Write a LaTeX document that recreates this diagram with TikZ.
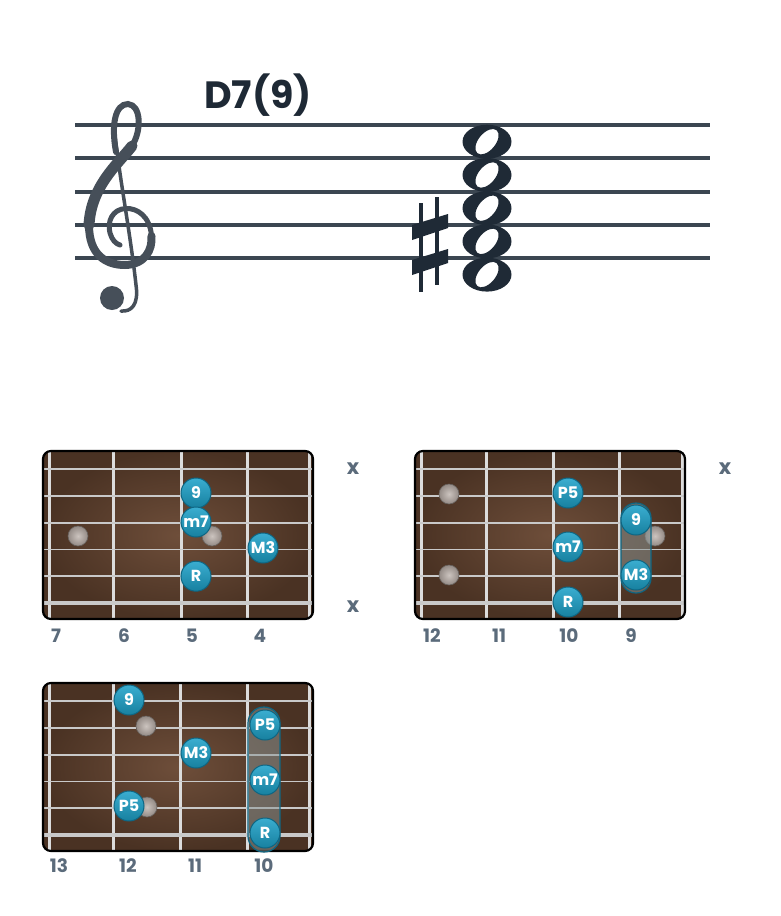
\documentclass[tikz,border=0pt]{standalone}
\usepackage{fontspec}
\usepackage{xcolor}
\setmainfont{Poppins}
\definecolor{titlec}{HTML}{1E2935}
\definecolor{stafflc}{HTML}{3B4651}
\definecolor{notec}{HTML}{1F2A36}
\definecolor{clefc}{HTML}{464F59}
\definecolor{boardin}{HTML}{6E4E3A}
\definecolor{boardout}{HTML}{4A3223}
\definecolor{fretc}{HTML}{DCDCDC}
\definecolor{strc}{HTML}{C9C9C9}
\definecolor{tonec}{HTML}{17809F}
\definecolor{tonelight}{HTML}{3AADD0}
\definecolor{toneedge}{HTML}{0E6683}
\definecolor{inlayin}{HTML}{CCC4BF}
\definecolor{inlayout}{HTML}{938A85}
\definecolor{labelc}{HTML}{5B6B7B}
\definecolor{barrec}{HTML}{8A9696}

\begin{document}
\begin{tikzpicture}[x=1pt,y=-1pt]
\tikzset{staffline/.style={line width=4pt,color=stafflc}}
\tikzset{clef/.style={color=clefc,line cap=round}}
\tikzset{fret/.style={line width=3pt,color=fretc}}
\tikzset{gstring/.style={line width=1.8pt,color=strc}}
\tikzset{board/.style={rounded corners=8pt,inner color=boardin,outer color=boardout}}
\tikzset{boardrim/.style={rounded corners=8pt,line width=2.2pt,draw=black}}
\tikzset{tone/.style={circle,minimum size=30pt,inner sep=0pt,top color=tonelight,bottom color=tonec,draw=toneedge,line width=1pt,text=white,font=\bfseries\fontsize{16}{16}\selectfont}}
\tikzset{inlay/.style={circle,minimum size=20pt,inner sep=0pt,inner color=inlayin,outer color=inlayout,draw=inlayout!70!black,line width=0.6pt}}
\tikzset{barre/.style={rounded corners=15pt,fill=barrec,fill opacity=0.5,draw=toneedge,line width=1.2pt}}
\tikzset{fretno/.style={anchor=base,text=labelc,font=\bfseries\fontsize{18.5}{18.5}\selectfont}}
\tikzset{mute/.style={anchor=base,text=labelc,font=\bfseries\fontsize{21}{21}\selectfont}}

\fill[white] (0,0) rectangle (780,916);
\useasboundingbox (0,0) rectangle (780,916);

\node[anchor=base,text=titlec,font=\bfseries\fontsize{38}{38}\selectfont] (chordname) at (258,108) {D7(9)};

\foreach \ly in {125,158.3,191.5,224.8,258} \draw[staffline] (75,\ly) -- (710,\ly);

\draw[clef,line width=6pt] (116,152) .. controls (111,125) and (115,104) .. (128,104) .. controls (141,105) and (142,130) .. (132,146);
\draw[clef,line width=11pt] (132,146) .. controls (118,164) and (91,186) .. (89,225);
\draw[clef,line width=8pt] (89,225) .. controls (89,255) and (106,265) .. (125,265) .. controls (145,264.5) and (152.5,250) .. (151.5,236);
\draw[clef,line width=5pt] (151.5,236) .. controls (150,216) and (137,208) .. (126,208.5) .. controls (112,209) and (107,222) .. (110,233) .. controls (112,240) and (116,244) .. (120,245);
\draw[clef,line width=3.5pt] (114,125) .. controls (118,170) and (130,230) .. (136,285) .. controls (139,305) and (131,312) .. (121,311);
\fill[clefc] (112,298) circle (12pt);

\foreach \ny in {141.7,175,208.2,241.4,274.6}
  \fill[notec,even odd rule] (487,\ny) ellipse (24.5pt and 17pt) {[rotate around={50:(487,\ny)}] (487,\ny) ellipse (15pt and 8.5pt)};

\draw[notec,line width=3.5pt] (421,203) -- (421,292);
\draw[notec,line width=3.5pt] (437,197) -- (437,285);
\fill[notec] (412,225) -- (448,214) -- (448,228) -- (412,240) -- cycle;
\fill[notec] (412,260) -- (448,249) -- (448,263) -- (412,275) -- cycle;

\begin{scope}[shift={(43,451)}]
\shade[board] (0,0) rectangle (270,168);
\foreach \fx in {6,70,138,204,266} \draw[fret] (\fx,1) -- (\fx,167);
\foreach \sy in {18,44.8,71.6,98.4,125.2} \draw[gstring] (1,\sy) -- (269,\sy);
\draw[gstring,line width=3.5pt] (1,152) -- (269,152);
\draw[boardrim] (0,0) rectangle (270,168);
\node[inlay] (b1i1) at (35,85) {};
\node[inlay] (b1i2) at (169,85) {};
\node[tone] (b1t9) at (153,42) {9};
\node[tone] (b1m7) at (153,71) {m7};
\node[tone] (b1M3) at (220,97) {M3};
\node[tone] (b1R) at (153,125.2) {R};
\node[mute] (b1x1) at (310,23) {x};
\node[mute] (b1x6) at (310,161) {x};
\node[fretno] (b1f7) at (13,191) {7};
\node[fretno] (b1f6) at (81,191) {6};
\node[fretno] (b1f5) at (149,191) {5};
\node[fretno] (b1f4) at (217,191) {4};
\end{scope}

\begin{scope}[shift={(415,451)}]
\shade[board] (0,0) rectangle (270,168);
\foreach \fx in {6,71,138,204,267} \draw[fret] (\fx,1) -- (\fx,167);
\foreach \sy in {18,44.8,71.6,98.4,125.2} \draw[gstring] (1,\sy) -- (269,\sy);
\draw[gstring,line width=3.5pt] (1,152) -- (269,152);
\draw[boardrim] (0,0) rectangle (270,168);
\node[inlay] (b2i1) at (34,43) {};
\node[inlay] (b2i2) at (34,124) {};
\node[inlay] (b2i3) at (240,85) {};
\draw[barre] (206,52) rectangle (236,142);
\node[tone] (b2P5) at (153,42) {P5};
\node[tone] (b2t9) at (221,69) {9};
\node[tone] (b2m7) at (153,96) {m7};
\node[tone] (b2M3) at (221,124) {M3};
\node[tone] (b2R) at (153,151) {R};
\node[mute] (b2x1) at (310,23) {x};
\node[fretno] (b2f12) at (17,191) {12};
\node[fretno] (b2f11) at (84,191) {11};
\node[fretno] (b2f10) at (154,191) {10};
\node[fretno] (b2f9) at (216,191) {9};
\end{scope}

\begin{scope}[shift={(43,683)}]
\shade[board] (0,0) rectangle (270,168);
\foreach \fx in {6,70,137,204,266} \draw[fret] (\fx,1) -- (\fx,167);
\foreach \sy in {18,44.8,71.6,98.4,125.2} \draw[gstring] (1,\sy) -- (269,\sy);
\draw[gstring,line width=3.5pt] (1,152) -- (269,152);
\draw[boardrim] (0,0) rectangle (270,168);
\node[inlay] (b3i1) at (103,43) {};
\node[inlay] (b3i2) at (104,124) {};
\draw[barre,rounded corners=16pt] (205,24) rectangle (237,169);
\node[tone] (b3t9) at (86,17) {9};
\node[tone] (b3P5a) at (222,42) {P5};
\node[tone] (b3M3) at (153,70) {M3};
\node[tone] (b3m7) at (222,97) {m7};
\node[tone] (b3P5b) at (86,123) {P5};
\node[tone] (b3R) at (222,150) {R};
\node[fretno] (b3f13) at (16,189) {13};
\node[fretno] (b3f12) at (85,189) {12};
\node[fretno] (b3f11) at (152,189) {11};
\node[fretno] (b3f10) at (221,189) {10};
\end{scope}
\end{tikzpicture}
\end{document}
